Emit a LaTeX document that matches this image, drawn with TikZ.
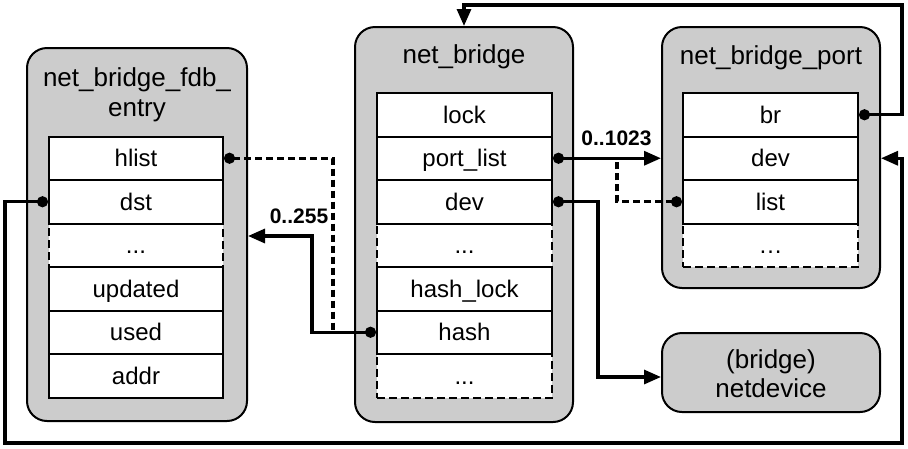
\documentclass[tikz,border=0pt]{standalone}
\usepackage{fontspec}
\setmainfont{Liberation Sans}
\usetikzlibrary{arrows.meta,calc}
\definecolor{boxgray}{HTML}{CCCCCC}
\begin{document}
\begin{tikzpicture}[x=1pt,y=-1pt,
  outer/.style={draw, line width=2pt, fill=boxgray, rounded corners=20pt, inner sep=0pt},
  field/.style={draw, line width=2pt, fill=white, minimum width=175pt, minimum height=43.5pt,
    inner sep=0pt, text height=17pt, text depth=0pt, font=\fontsize{24}{28}\selectfont},
  dfield/.style={field, dash pattern=on 8pt off 4pt},
  title/.style={anchor=base, inner sep=0pt, font=\fontsize{26}{30}\selectfont},
  lbl/.style={anchor=base, inner sep=0pt, font=\bfseries\fontsize{21}{25}\selectfont},
  link/.style={line width=3.2pt},
  dlink/.style={link, dash pattern=on 7pt off 4pt},
  dotstart/.style={{Circle[length=11pt]}-},
  dottip/.style={{Circle[length=11pt]}-{Triangle[length=17pt,width=14pt]}}
]
\useasboundingbox (0,0) rectangle (908,448);

% outer boxes
\node[outer, minimum width=220pt, minimum height=373pt] (fdb) at (137,234.5) {};
\node[outer, minimum width=218pt, minimum height=395pt] (bridge) at (464,224.5) {};
\node[outer, minimum width=218pt, minimum height=261pt] (port) at (771,157.5) {};
\node[outer, minimum width=218pt, minimum height=79pt] (netdev) at (771,372.5) {};

% titles
\node[title] (fdbt1) at (137,86) {net\_bridge\_fdb\_};
\node[title] (fdbt2) at (137,116) {entry};
\node[title] (bridget) at (464,63) {net\_bridge};
\node[title] (portt) at (771,64) {net\_bridge\_port};
\node[title] (netdevt1) at (771,368) {(bridge)};
\node[title] (netdevt2) at (771,397) {netdevice};

% left fields
\node[dfield, minimum width=174pt] (fdbx) at (136,245.25) {...};
\node[field, minimum width=174pt] (hlist) at (136,158.25) {hlist};
\node[field, minimum width=174pt] (dst) at (136,201.75) {dst};
\node[field, minimum width=174pt] (updated) at (136,288.75) {updated};
\node[field, minimum width=174pt] (used) at (136,332.25) {used};
\node[field, minimum width=174pt] (addr) at (136,375.75) {addr};

% middle fields
\node[dfield] (bx1) at (464.5,245.25) {...};
\node[dfield] (bx2) at (464.5,375.75) {...};
\node[field] (lock) at (464.5,114.75) {lock};
\node[field] (portlist) at (464.5,158.25) {port\_list};
\node[field] (bdev) at (464.5,201.75) {dev};
\node[field] (hashlock) at (464.5,288.75) {hash\_lock};
\node[field] (hash) at (464.5,332.25) {hash};

% right fields
\node[dfield] (px) at (770.5,245.25) {…};
\node[field] (br) at (770.5,114.75) {br};
\node[field] (pdev) at (770.5,158.25) {dev};
\node[field] (list) at (770.5,201.75) {list};

% connectors
\coordinate (jd) at (333,332.25);
\draw[dlink, dotstart] (hlist.east) -| (jd);

\coordinate (c255) at (312,236);
\draw[link, dottip] (hash.west) -| (c255) -- (c255 -| fdb.east);
\node[lbl] (l255) at (299,223) {0..255};

\coordinate (cl) at (5,443);
\coordinate (cr) at (902,443);
\draw[link, dottip] (dst.west) -| (cl) -- (cr) |- (pdev.east -| port.east);

\coordinate (ctr) at (902,5);
\draw[link, dottip] (br.east) -| (ctr) -| (bridge.north);

\draw[link, dottip] (portlist.east) -- (portlist.east -| port.west);
\node[lbl] (l1023) at (616.5,145) {0..1023};

\coordinate (cd) at (617,159);
\draw[dlink, dotstart] (list.west) -| (cd);

\coordinate (cdev) at (598,377);
\draw[link, dottip] (bdev.east) -| (cdev) -- (cdev -| netdev.west);
\end{tikzpicture}
\end{document}
